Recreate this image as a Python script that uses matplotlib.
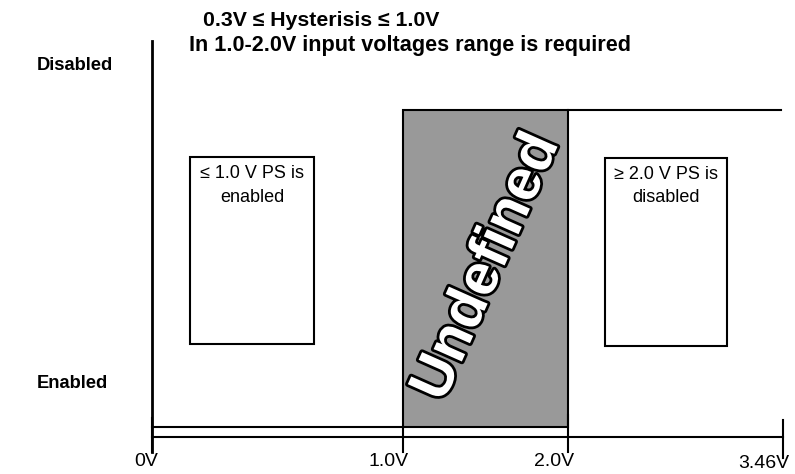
import matplotlib
matplotlib.use("Agg")
import matplotlib.pyplot as plt
import matplotlib.patheffects as pe
from matplotlib.patches import Rectangle

plt.rcParams['font.family'] = ['Liberation Sans', 'DejaVu Sans']

# --- data ---
tick_labels = ["0V", "1.0V", "2.0V", "3.46V"]
tick_pos = [152, 403, 568, 783]          # schematic positions of the voltage ticks
level_labels = ["Disabled", "Enabled"]
level_pos = [110, 427]                   # schematic y of the two output levels
title_lines = ["0.3V \u2264 Hysterisis \u2264 1.0V",
               "In 1.0-2.0V input voltages range is required"]
box_texts = ["\u2264 1.0 V PS is\nenabled", "\u2265 2.0 V PS is\ndisabled"]
undefined_label = "Undefined"

W, H = 795, 474
fig = plt.figure(figsize=(W / 100, H / 100), dpi=100)
ax = fig.add_axes([0, 0, 1, 1])
ax.set_xlim(0, W)
ax.set_ylim(H, 0)
ax.axis('off')

x0, x1, x2, x3 = tick_pos
y_dis, y_en = level_pos
y_axis = 437

# undefined region
ax.add_patch(Rectangle((x1, y_dis), x2 - x1, y_en - y_dis, facecolor='#999999',
                       edgecolor='black', linewidth=1.5, zorder=2))

# vertical axis
ax.plot([x0, x0], [41, 452], color='black', lw=2, zorder=3)
# horizontal axis
ax.plot([x0, x3], [y_axis, y_axis], color='black', lw=1.5, zorder=3)
# output signal
ax.plot([x0, x1], [y_en, y_en], color='black', lw=1.5, zorder=3)
ax.plot([x2, 781], [y_dis, y_dis], color='black', lw=1.5, zorder=3)

# ticks
tick_top = [418, 427, 415, 420]
tick_bot = [452, 452, 452, 458]
for xp, t, b in zip(tick_pos, tick_top, tick_bot):
    ax.plot([xp, xp], [t, b], color='black', lw=1.5, zorder=3)
label_y = [462, 462, 462, 464]
for xp, lab, ly in zip(tick_pos, tick_labels, label_y):
    ax.text(xp + 6, ly, lab, ha='right', va='center', fontsize=14)

# level labels
ax.text(37, 65, level_labels[0], ha='left', va='center', fontsize=13.2, fontweight='bold')
ax.text(37, 383, level_labels[1], ha='left', va='center', fontsize=13.2, fontweight='bold')

# title lines
ax.text(203, 20, title_lines[0], ha='left', va='center', fontsize=15.3, fontweight='bold')
ax.text(189, 45, title_lines[1], ha='left', va='center', fontsize=15.6, fontweight='bold')

# boxes
boxes = [(190, 157, 314, 344), (605, 158, 727, 346)]
for (bx0, by0, bx1, by1), txt in zip(boxes, box_texts):
    ax.add_patch(Rectangle((bx0, by0), bx1 - bx0, by1 - by0, facecolor='white',
                           edgecolor='black', linewidth=1.5, zorder=2))
    ax.text((bx0 + bx1) / 2, by0 + 8, txt, ha='center', va='top', fontsize=13,
            linespacing=1.5, zorder=4)

# undefined label
t = ax.text((x1 + x2) / 2 + 2, 267, undefined_label, ha='center', va='center',
            rotation=66, rotation_mode='anchor', fontsize=42, fontweight='bold',
            color='white', zorder=5)
t.set_path_effects([pe.Stroke(linewidth=4, foreground='black'), pe.Normal()])

fig.savefig("out.png", dpi=100)
